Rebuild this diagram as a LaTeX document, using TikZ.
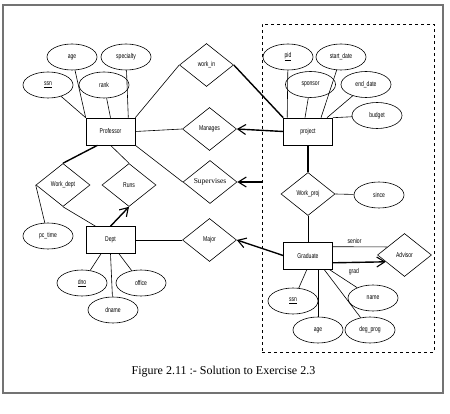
\documentclass[tikz,border=0pt]{standalone}
\usepackage{fontspec}
\setmainfont{Liberation Serif}
\newfontfamily\erfont[FakeStretch=0.72]{Liberation Sans}
\usetikzlibrary{positioning, calc, shapes, shapes.geometric, arrows.meta}
\tikzset{erlabel/.style={font=\erfont\fontsize{7}{8}\selectfont}}
\tikzset{ent/.style={erlabel, draw, rectangle, minimum width=49pt, minimum height=27pt, inner sep=0pt}}
\tikzset{attr/.style={erlabel, draw, ellipse, minimum width=50pt, minimum height=26pt, inner sep=0pt}}
\tikzset{rel/.style={erlabel, draw, diamond, minimum width=54pt, minimum height=43pt, inner sep=0pt}}
\tikzset{tot/.style={draw, line width=1.4pt}}
\tikzset{keyarr/.style={draw, line width=1.4pt, -{Straight Barb[length=8pt, width=10pt, line width=1.1pt]}}}
\definecolor{framegray}{gray}{0.45}

\begin{document}
\begin{tikzpicture}[x=1pt, y=-1pt, line width=0.6pt]
			\useasboundingbox (0,0) rectangle (450,414);
			\draw[framegray, line width=1.1pt] (3,5) rectangle (443,393);
			\node[draw, dashed, minimum width=172pt, minimum height=328pt, inner sep=0pt] (Agg) at (348,188) {};
			%
			\node[ent] (Prof) at (110.5,131.5) {Professor};
			\node[attr] (Age) at (72,57) {age};
			\node[attr] (Spec) at (126,57) {specialty};
			\node[attr] (Ssn) at (48,85) {\underline{ssn}};
			\node[attr] (Rank) at (104,85) {rank};
			%
			\node[rel] (WorkIn) at (206.5,65) {work\_in};
			\node[rel] (Manages) at (209.5,129) {Manages};
			\node[rel, font=\fontsize{7.5}{9}\selectfont] (Superv) at (210,182) {Supervises};
			\node[rel] (WorkDept) at (63,185) {Work\_dept};
			\node[rel] (Runs) at (129,185) {Runs};
			\node[attr] (PcTime) at (48,236) {pc\_time};
			%
			\node[ent] (Dept) at (110.5,240) {Dept};
			\node[attr] (Dno) at (82,283) {\underline{dno}};
			\node[attr] (Office) at (141,283) {office};
			\node[attr] (Dname) at (113,310) {dname};
			\node[rel] (Major) at (209.5,240) {Major};
			%
			\node[ent] (Proj) at (308,131.5) {project};
			\node[attr] (Pid) at (288,57) {\underline{pid}};
			\node[attr] (StartD) at (341,57) {start\_date};
			\node[attr] (Sponsor) at (310.5,84.5) {sponsor};
			\node[attr] (EndD) at (366,84.5) {end\_date};
			\node[attr] (Budget) at (377,115.5) {budget};
			\node[rel] (WorkProj) at (308,194) {Work\_proj};
			\node[attr] (Since) at (379,195) {since};
			%
			\node[ent] (Grad) at (308,255.5) {Graduate};
			\node[rel] (Advisor) at (404.5,255) {Advisor};
			\node[attr] (GSsn) at (293,301) {\underline{ssn}};
			\node[attr] (GAge) at (318,330) {age};
			\node[attr] (Name) at (373,298) {name};
			\node[attr] (DegProg) at (370,330) {deg\_prog};
			%
			\node[font=\fontsize{12}{14}\selectfont] (Caption) at (223.5,372) {Figure 2.11 :- Solution to Exercise 2.3};
			%
			\draw (Ssn) -- (Prof.north west);
			\draw (Age) -- (Prof.north west);
			\draw (Rank) -- (Prof.north);
			\draw (Spec) -- ([xshift=-7pt]Prof.north east);
			\draw (Prof.north east) -- (WorkIn.west);
			\draw[tot] (WorkIn.east) -- (Proj.north west);
			\draw (Prof.east) -- (Manages.west);
			\draw[keyarr] (Proj.west) -- (Manages.east);
			\draw (Prof.south east) -- (Superv.west);
			\draw[keyarr] (Superv.east -| Agg.west) -- (Superv.east);
			\draw[tot] ([xshift=-13pt]Prof.south) -- (WorkDept.north);
			\draw (Prof.south) -- (Runs.north);
			\draw (WorkDept.south) -- ([xshift=-15pt]Dept.north);
			\draw (WorkDept.west) -- (PcTime);
			\draw[keyarr] (Dept.north) -- (Runs.south);
			\draw (Dno) -- ([xshift=-9.5pt]Dept.south);
			\draw (Dname) -- (Dept.south);
			\draw (Office) -- ([xshift=8.5pt]Dept.south);
			\draw (Dept.east) -- (Major.west);
			\draw[keyarr] (Grad.west) -- (Major.east);
			%
			\draw (Pid) -- ([xshift=4pt]Proj.north west);
			\draw (Sponsor) -- ([xshift=-3pt]Proj.north);
			\draw (StartD) -- ([xshift=13pt]Proj.north);
			\draw (EndD) -- ([xshift=19pt]Proj.north);
			\draw (Budget) -- (Proj.north east);
			\draw[tot] (Proj.south) -- (WorkProj.north);
			\draw (WorkProj.east) -- (Since);
			\draw (WorkProj.south) -- (Grad.north);
			\draw ([yshift=-5pt]Grad.north east) -- node[erlabel, pos=0.4, above] {senior} (Advisor.155);
			\draw[keyarr] ([yshift=6.5pt]Grad.south east) -- node[erlabel, pos=0.4, below=2pt] {grad} (Advisor.200);
			\draw (GSsn) -- ([xshift=-1pt]Grad.south);
			\draw (GAge) -- ([xshift=10pt]Grad.south);
			\draw (DegProg) -- ([xshift=16pt]Grad.south);
			\draw (Name) -- ([xshift=21pt]Grad.south);
		\end{tikzpicture}
\end{document}
